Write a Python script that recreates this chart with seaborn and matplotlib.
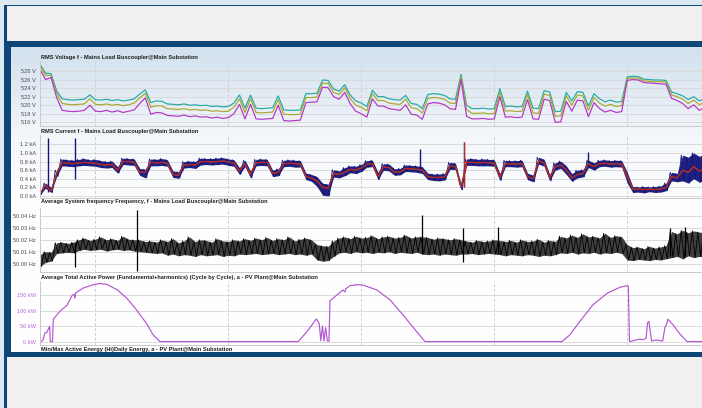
import numpy as np
import seaborn as sns
import matplotlib
matplotlib.use('Agg')
from matplotlib import pyplot as plt
from matplotlib.patches import Rectangle
from matplotlib.colors import LinearSegmentedColormap

W, H = 702, 408

# half-hour samples over the 60 h window shown
hours = np.arange(0, 60.01, 0.5)
grid_hours = [5, 17, 29, 41, 53]

volt_teal = [
    529.6, 527.5, 527.4, 523.4, 521.5, 521.3, 521.2, 521.3, 521.4, 522.4,
    521.3, 521.2, 521.4, 521.1, 521.3, 521.0, 521.2, 521.5, 522.6, 523.6,
    520.6, 521.0, 520.9, 520.3, 520.2, 520.1, 520.3, 520.0, 520.1, 519.9,
    520.0, 519.7, 519.8, 519.6, 519.7, 520.5, 522.4, 519.3, 522.4, 519.3,
    519.2, 519.3, 519.4, 522.2, 518.9, 518.8, 518.8, 518.9, 522.7, 522.7,
    522.8, 525.9, 525.8, 523.8, 523.3, 524.8, 522.4, 521.0, 520.5, 519.7,
    523.5, 522.0, 522.0, 521.5, 521.3, 521.2, 522.3, 520.4, 520.2, 519.2,
    522.5, 522.7, 522.6, 522.3, 521.5, 521.4, 527.2, 520.0, 519.2, 519.2,
    519.3, 519.1, 519.2, 523.9, 519.7, 519.8, 519.6, 519.7, 523.3, 519.3,
    519.2, 523.4, 523.1, 518.5, 518.6, 523.0, 521.0, 523.2, 523.0, 519.8,
    522.7, 521.5, 520.8, 521.2, 520.7, 520.9, 526.6, 526.8, 526.7, 526.1,
    526.0, 525.9, 525.9, 525.8, 523.1, 522.7, 522.2, 521.3, 522.0, 521.0,
    521.6,
]
volt_olive = [
    529.3, 527.0, 527.0, 522.7, 520.4, 520.2, 520.1, 520.2, 520.3, 521.5,
    520.2, 520.1, 520.3, 520.0, 520.2, 519.9, 520.1, 520.5, 521.7, 522.8,
    519.5, 519.9, 519.8, 519.2, 519.1, 519.0, 519.2, 518.9, 519.0, 518.8,
    518.9, 518.6, 518.7, 518.5, 518.6, 519.5, 521.5, 518.3, 521.5, 518.3,
    518.2, 518.3, 518.4, 521.3, 517.9, 517.8, 517.8, 517.9, 521.8, 521.8,
    521.9, 525.2, 525.1, 523.0, 522.5, 524.1, 521.5, 520.0, 519.5, 518.7,
    522.7, 521.1, 521.1, 520.5, 520.3, 520.2, 521.4, 519.4, 519.2, 518.2,
    521.6, 521.8, 521.7, 521.4, 520.5, 520.4, 526.7, 519.0, 518.1, 518.1,
    518.2, 518.0, 518.1, 523.1, 518.6, 518.7, 518.5, 518.6, 522.5, 518.2,
    518.1, 522.6, 522.3, 517.4, 517.5, 522.2, 520.0, 522.4, 522.2, 518.8,
    521.8, 520.5, 519.8, 520.2, 519.7, 519.9, 526.2, 526.4, 526.3, 525.7,
    525.6, 525.5, 525.5, 525.4, 522.4, 522.0, 521.4, 520.4, 521.2, 520.1,
    520.7,
]
volt_magenta = [
    528.4, 526.0, 526.5, 521.8, 518.8, 518.6, 518.5, 518.6, 518.8, 520.0,
    518.6, 518.5, 518.8, 518.4, 518.7, 518.3, 518.6, 518.9, 520.4, 521.7,
    517.9, 518.3, 518.2, 517.6, 517.5, 517.4, 517.7, 517.3, 517.5, 517.2,
    517.3, 517.0, 517.2, 516.9, 517.1, 518.0, 520.2, 516.8, 520.2, 516.8,
    516.7, 516.8, 516.9, 520.0, 516.4, 516.3, 516.4, 516.5, 520.6, 520.7,
    520.8, 524.2, 524.1, 522.0, 521.4, 523.0, 520.3, 518.6, 518.0, 517.2,
    521.5, 519.8, 519.8, 519.2, 519.0, 518.8, 520.1, 517.9, 517.7, 516.7,
    520.3, 520.6, 520.5, 520.1, 519.2, 519.0, 526.0, 517.4, 516.8, 516.8,
    516.9, 516.7, 516.8, 522.0, 517.2, 517.3, 517.1, 517.2, 521.3, 516.8,
    516.7, 521.4, 521.1, 516.0, 516.1, 520.9, 518.6, 521.2, 521.0, 517.3,
    520.6, 519.2, 518.4, 518.8, 518.3, 518.5, 525.8, 526.0, 525.9, 525.3,
    525.2, 525.1, 525.0, 524.9, 521.6, 521.1, 520.4, 519.2, 520.1, 518.8,
    519.5,
]

cur_red = [
    0.06, 0.25, 0.12, 0.52, 0.78, 0.76, 0.75, 0.77, 0.78, 0.77,
    0.76, 0.73, 0.72, 0.73, 0.60, 0.80, 0.80, 0.78, 0.55, 0.55,
    0.78, 0.77, 0.78, 0.76, 0.50, 0.48, 0.72, 0.73, 0.72, 0.80,
    0.80, 0.79, 0.80, 0.81, 0.79, 0.76, 0.58, 0.75, 0.50, 0.77,
    0.78, 0.78, 0.52, 0.55, 0.75, 0.76, 0.75, 0.74, 0.45, 0.42,
    0.35, 0.20, 0.18, 0.52, 0.50, 0.55, 0.62, 0.60, 0.65, 0.74,
    0.75, 0.45, 0.67, 0.66, 0.55, 0.56, 0.64, 0.63, 0.62, 0.60,
    0.45, 0.43, 0.43, 0.44, 0.70, 0.68, 0.20, 0.78, 0.78, 0.77,
    0.78, 0.77, 0.76, 0.43, 0.75, 0.75, 0.74, 0.75, 0.45, 0.40,
    0.82, 0.76, 0.42, 0.68, 0.72, 0.60, 0.42, 0.50, 0.52, 0.75,
    0.68, 0.75, 0.76, 0.74, 0.75, 0.74, 0.45, 0.16, 0.16, 0.15,
    0.16, 0.15, 0.16, 0.20, 0.45, 0.42, 0.60, 0.55, 0.68, 0.58,
    0.62,
]
cur_max = [
    0.10, 0.30, 0.20, 0.60, 0.86, 0.84, 0.83, 0.85, 0.87, 0.84,
    0.85, 0.82, 0.80, 0.81, 0.68, 0.88, 0.87, 0.86, 0.64, 0.62,
    0.86, 0.85, 0.87, 0.84, 0.58, 0.56, 0.80, 0.81, 0.80, 0.88,
    0.87, 0.87, 0.88, 0.89, 0.86, 0.84, 0.66, 0.83, 0.58, 0.85,
    0.86, 0.85, 0.60, 0.63, 0.83, 0.84, 0.83, 0.82, 0.53, 0.50,
    0.45, 0.30, 0.27, 0.61, 0.58, 0.66, 0.70, 0.69, 0.73, 0.82,
    0.83, 0.55, 0.75, 0.74, 0.63, 0.64, 0.72, 0.71, 0.70, 0.68,
    0.53, 0.51, 0.51, 0.52, 0.78, 0.76, 0.28, 0.86, 0.87, 0.85,
    0.86, 0.85, 0.84, 0.52, 0.83, 0.82, 0.82, 0.83, 0.53, 0.48,
    0.90, 0.85, 0.50, 0.77, 0.81, 0.70, 0.52, 0.60, 0.61, 0.83,
    0.77, 0.83, 0.84, 0.82, 0.83, 0.82, 0.55, 0.22, 0.21, 0.22,
    0.21, 0.22, 0.23, 0.30, 0.55, 0.52, 0.95, 0.90, 1.00, 0.92,
    0.98,
]
cur_min = [
    0.03, 0.18, 0.08, 0.45, 0.70, 0.69, 0.68, 0.70, 0.71, 0.70,
    0.69, 0.66, 0.65, 0.66, 0.53, 0.73, 0.72, 0.71, 0.48, 0.42,
    0.70, 0.70, 0.71, 0.69, 0.43, 0.41, 0.65, 0.66, 0.64, 0.72,
    0.73, 0.72, 0.73, 0.74, 0.71, 0.69, 0.50, 0.68, 0.42, 0.70,
    0.71, 0.70, 0.45, 0.47, 0.68, 0.69, 0.67, 0.67, 0.38, 0.34,
    0.22, 0.02, 0.00, 0.44, 0.42, 0.47, 0.54, 0.52, 0.57, 0.67,
    0.68, 0.38, 0.60, 0.58, 0.48, 0.49, 0.57, 0.56, 0.55, 0.52,
    0.38, 0.36, 0.35, 0.37, 0.62, 0.61, 0.14, 0.71, 0.71, 0.70,
    0.70, 0.70, 0.69, 0.36, 0.68, 0.68, 0.67, 0.68, 0.38, 0.33,
    0.74, 0.69, 0.35, 0.60, 0.64, 0.50, 0.34, 0.42, 0.44, 0.66,
    0.60, 0.68, 0.69, 0.67, 0.68, 0.67, 0.30, 0.08, 0.09, 0.07,
    0.10, 0.08, 0.09, 0.12, 0.35, 0.33, 0.35, 0.30, 0.40, 0.32,
    0.36,
]
# short current peaks (hour, from, to)
cur_spike_hours = [0.69, 3.16, 34.3, 38.3, 49.5]
cur_spike_lo = [0.10, 0.40, 0.55, 0.20, 0.68]
cur_spike_hi = [1.35, 1.35, 1.10, 1.25, 1.03]

freq_max = [
    50.0075, 50.0100, 50.0095, 50.0175, 50.0180, 50.0170, 50.0180, 50.0200, 50.0215, 50.0195,
    50.0205, 50.0225, 50.0200, 50.0210, 50.0195, 50.0230, 50.0205, 50.0200, 50.0200, 50.0185,
    50.0190, 50.0180, 50.0200, 50.0185, 50.0210, 50.0175, 50.0190, 50.0225, 50.0185, 50.0200,
    50.0195, 50.0180, 50.0210, 50.0190, 50.0185, 50.0200, 50.0190, 50.0210, 50.0195, 50.0215,
    50.0200, 50.0220, 50.0195, 50.0210, 50.0200, 50.0225, 50.0190, 50.0205, 50.0215, 50.0200,
    50.0160, 50.0150, 50.0145, 50.0190, 50.0215, 50.0225, 50.0210, 50.0230, 50.0215, 50.0220,
    50.0235, 50.0210, 50.0225, 50.0230, 50.0215, 50.0220, 50.0240, 50.0215, 50.0225, 50.0225,
    50.0220, 50.0205, 50.0215, 50.0210, 50.0200, 50.0210, 50.0200, 50.0190, 50.0180, 50.0195,
    50.0185, 50.0190, 50.0200, 50.0195, 50.0185, 50.0195, 50.0180, 50.0200, 50.0185, 50.0190,
    50.0205, 50.0180, 50.0195, 50.0185, 50.0230, 50.0215, 50.0240, 50.0220, 50.0250, 50.0225,
    50.0230, 50.0215, 50.0255, 50.0220, 50.0235, 50.0225, 50.0160, 50.0135, 50.0140, 50.0125,
    50.0145, 50.0130, 50.0140, 50.0150, 50.0270, 50.0250, 50.0280, 50.0260, 50.0275, 50.0265,
    50.0260,
]
freq_min = [
    49.9975, 50.0010, 50.0020, 50.0085, 50.0090, 50.0095, 50.0090, 50.0110, 50.0120, 50.0110,
    50.0115, 50.0120, 50.0105, 50.0115, 50.0120, 50.0110, 50.0115, 50.0105, 50.0100, 50.0095,
    50.0090, 50.0085, 50.0090, 50.0070, 50.0080, 50.0065, 50.0075, 50.0070, 50.0060, 50.0075,
    50.0065, 50.0070, 50.0075, 50.0060, 50.0070, 50.0065, 50.0080, 50.0075, 50.0080, 50.0085,
    50.0075, 50.0080, 50.0085, 50.0075, 50.0080, 50.0085, 50.0075, 50.0080, 50.0070, 50.0080,
    50.0030, 50.0020, 50.0025, 50.0060, 50.0090, 50.0095, 50.0085, 50.0100, 50.0090, 50.0095,
    50.0085, 50.0095, 50.0090, 50.0100, 50.0085, 50.0095, 50.0090, 50.0085, 50.0095, 50.0080,
    50.0075, 50.0080, 50.0070, 50.0080, 50.0075, 50.0070, 50.0080, 50.0080, 50.0085, 50.0075,
    50.0080, 50.0085, 50.0080, 50.0075, 50.0065, 50.0075, 50.0070, 50.0065, 50.0075, 50.0070,
    50.0060, 50.0070, 50.0065, 50.0075, 50.0090, 50.0085, 50.0095, 50.0080, 50.0090, 50.0085,
    50.0095, 50.0080, 50.0090, 50.0085, 50.0095, 50.0085, 50.0030, 50.0025, 50.0035, 50.0030,
    50.0025, 50.0035, 50.0030, 50.0040, 50.0050, 50.0060, 50.0040, 50.0065, 50.0050, 50.0060,
    50.0055,
]
# short frequency excursions (hour, from, to)
freq_spike_hours = [3.16, 8.75, 34.5, 38.2, 41.3, 56.9, 58.2]
freq_spike_lo = [49.9975, 49.9935, 50.0080, 50.0017, 50.0080, 50.0060, 50.0060]
freq_spike_hi = [50.0170, 50.0450, 50.0410, 50.0300, 50.0310, 50.0300, 50.0310]

power_hours = [
    0.09, 0.27, 0.45, 0.63, 0.81, 0.88, 0.93, 1.13, 1.2, 1.35,
    1.8, 2.44, 2.89, 3.07, 3.16, 3.2, 3.88, 4.78, 5.42, 6.05,
    6.95, 7.85, 8.75, 9.66, 10.2, 10.83, 23.3, 24.1, 24.95, 25.2,
    25.34, 25.49, 25.63, 25.78, 25.93, 26.08, 26.17, 26.8, 27.35, 27.53,
    27.6, 27.98, 28.6, 29.15, 30.4, 31.6, 32.76, 34.0, 34.75, 47.1,
    47.8, 48.7, 49.9, 51.2, 52.35, 53.0, 53.1, 53.2, 54.15, 54.4,
    54.7, 54.83, 54.96, 55.05, 55.2, 55.6, 55.96, 56.2, 56.4, 56.54,
    56.68, 57.13, 57.76, 58.4, 60.0,
]
power_kw = [
    0, 5, 28, 30, 45, 48, 0, 0, 72, 78,
    98, 117, 148, 152, 140, 156, 172, 183, 187, 184,
    167, 139, 100, 56, 22, 0, 0, 32, 73, 58,
    3, 50, 2, 45, 2, 1, 131, 150, 166, 160,
    170, 180, 183, 182, 166, 134, 86, 32, 0, 0,
    21, 64, 118, 156, 175, 180, 178, 0, 8, 6,
    10, 60, 65, 40, 2, 5, 3, 2, 45, 55,
    72, 54, 24, 0, 0,
]

titles = [
    "RMS Voltage f - Mains Load Buscoupler@Main Substation",
    "RMS Current f - Mains Load Buscoupler@Main Substation",
    "Average System frequency Frequency, f - Mains Load Buscoupler@Main Substation",
    "Average Total Active Power (Fundamental+harmonics) (Cycle by Cycle), a - PV Plant@Main Substation",
    "Min/Max Active Energy (Hi)Daily Energy, a - PV Plant@Main Substation",
]
volt_ticks = [516, 518, 520, 522, 524, 526, 528]
cur_ticks = [0.0, 0.2, 0.4, 0.6, 0.8, 1.0, 1.2]
freq_ticks = [50.00, 50.01, 50.02, 50.03, 50.04]
power_ticks = [0, 50, 100, 150]

sns.set_theme(style='white')
plt.rcParams['font.family'] = ['Liberation Sans Narrow', 'Liberation Sans', 'DejaVu Sans']

DARK = '#0d4677'
NAVY = '#16167a'
fig = plt.figure(figsize=(W / 100, H / 100), dpi=100)
fig.patch.set_facecolor('#dce8f2')


def px_rect(x0, y0, x1, y1):
    return [x0 / W, 1 - y1 / H, (x1 - x0) / W, (y1 - y0) / H]


def add_box(x0, y0, x1, y1, color, z):
    r = px_rect(x0, y0, x1, y1)
    fig.add_artist(Rectangle((r[0], r[1]), r[2], r[3], transform=fig.transFigure,
                             facecolor=color, edgecolor='none', zorder=z))


# frame of the dashboard
add_box(4, 5, 710, 420, DARK, -10)
add_box(7, 6.5, 710, 41, '#f0f0f0', -9)
add_box(7, 357, 710, 420, '#f0f0f0', -9)

bg = fig.add_axes(px_rect(11, 47, 710, 352), zorder=-5)
cmap = LinearSegmentedColormap.from_list(
    'panel', [(0, '#d3e1ee'), (0.15, '#e2ebf4'), (0.3, '#f4f7fb'), (0.5, '#fdfdfe'), (1, '#ffffff')])
bg.imshow(np.linspace(0, 1, 256).reshape(-1, 1), cmap=cmap, aspect='auto', extent=[0, 1, 0, 1])
bg.set_axis_off()


def minmax_trace(t, hi, lo):
    tt = np.column_stack([t - 0.125, t + 0.125]).ravel()
    yy = np.column_stack([hi, lo]).ravel()
    return tt, yy


def style_panel(ax, ylim, ticks, labels, tick_color='#4a4a4a'):
    ax.set_facecolor('none')
    ax.set_xlim(0, 60)
    ax.set_ylim(*ylim)
    ax.set_yticks(ticks)
    ax.set_yticklabels(labels)
    ax.set_xticks([])
    ax.tick_params(axis='y', length=0, pad=3, labelsize=4.1, labelcolor=tick_color)
    ax.yaxis.grid(True, color='#dadada', lw=0.7)
    ax.set_axisbelow(True)
    for h in grid_hours:
        ax.axvline(h, color='#cfcfcf', lw=0.7, ls=(0, (3, 2)), zorder=0.5)
    for s in ['top', 'right']:
        ax.spines[s].set_visible(False)
    for s in ['left', 'bottom']:
        ax.spines[s].set_color('#c9c9c9')
        ax.spines[s].set_linewidth(0.7)
    ax.set_xlabel('')
    ax.set_ylabel('')


# voltage
ax1 = fig.add_axes(px_rect(40, 61, 704.8, 126))
sns.lineplot(x=hours, y=volt_teal, ax=ax1, color='#1faaa2', lw=0.85, errorbar=None)
sns.lineplot(x=hours, y=volt_olive, ax=ax1, color='#a9a82a', lw=0.85, errorbar=None)
sns.lineplot(x=hours, y=volt_magenta, ax=ax1, color='#b433c4', lw=0.85, errorbar=None)
style_panel(ax1, (515.13, 530.35), volt_ticks, [f'{v} V' for v in volt_ticks])

# current: min/max band of the raw trace, with the mean on top
ax2 = fig.add_axes(px_rect(40, 135, 704.8, 198))
ax2.fill_between(hours, cur_min, cur_max, color=NAVY, lw=0, alpha=0.95)
tc, yc = minmax_trace(hours, cur_max, cur_min)
sns.lineplot(x=tc, y=yc, ax=ax2, color=NAVY, lw=0.6, errorbar=None)
ax2.vlines(cur_spike_hours, cur_spike_lo, cur_spike_hi, color=NAVY, lw=1.0)
sns.lineplot(x=hours, y=cur_red, ax=ax2, color='#2f8a2f', lw=0.7, errorbar=None)
sns.lineplot(x=hours, y=cur_red, ax=ax2, color='#cc2020', lw=0.9, errorbar=None)
ax2.vlines(cur_spike_hours[3], cur_spike_lo[3], cur_spike_hi[3], color='#cc2020', lw=0.8)
style_panel(ax2, (-0.047, 1.416), cur_ticks, [f'{v:.1f} kA' for v in cur_ticks])

# frequency
ax3 = fig.add_axes(px_rect(40, 208, 704.8, 272))
ax3.fill_between(hours, freq_min, freq_max, color='#111111', lw=0, alpha=0.8)
tf, yf = minmax_trace(hours, freq_max, freq_min)
sns.lineplot(x=tf, y=yf, ax=ax3, color='#000000', lw=0.6, errorbar=None)
ax3.vlines(freq_spike_hours, freq_spike_lo, freq_spike_hi, color='#000000', lw=0.9)
style_panel(ax3, (49.9929, 50.0468), freq_ticks, [f'{v:.2f} Hz' for v in freq_ticks])

# active power
ax4 = fig.add_axes(px_rect(40, 281, 704.8, 345))
sns.lineplot(x=power_hours, y=power_kw, ax=ax4, color='#b356d2', lw=0.85, errorbar=None)
style_panel(ax4, (-11, 195), power_ticks, [f'{v} kW' for v in power_ticks], tick_color='#b565d6')

for t, y in zip(titles, [57, 131, 202, 277, 350]):
    fig.text(41 / W, 1 - y / H, t, fontsize=4.1, fontweight='bold', va='center',
             ha='left', color='#1e1e1e')

# bottom band covering the cut-off panel
add_box(4, 352, 710, 357, DARK, 5)

fig.savefig('out.png', dpi=100, facecolor=fig.get_facecolor())
